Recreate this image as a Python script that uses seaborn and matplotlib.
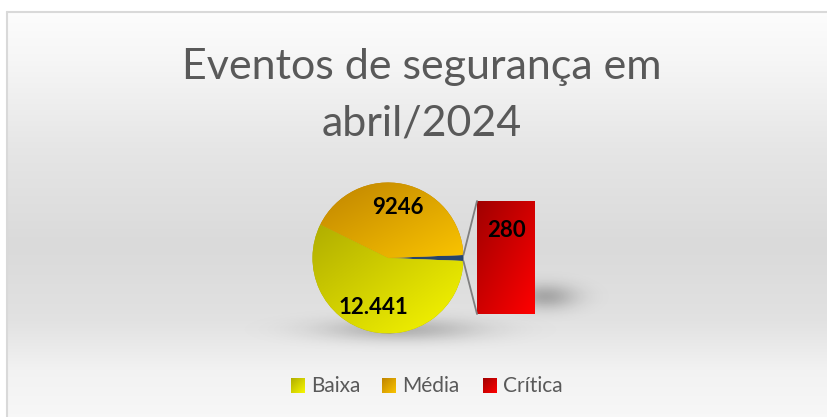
import numpy as np
import matplotlib
matplotlib.use("Agg")
import matplotlib.pyplot as plt
from matplotlib.patches import ConnectionPatch, Rectangle
from matplotlib.colors import to_rgb
import seaborn as sns

# dados do gráfico
categories = ["Baixa", "Média", "Crítica"]
counts = [12441, 9246, 280]
count_labels = ["12.441", "9246", "280"]
title_lines = ["Eventos de segurança em", "abril/2024"]
colors_dark = ["#b0ad00", "#bf8400", "#a00000"]
colors_light = ["#f8f800", "#fac400", "#ff0000"]
split_color = "#26446c"
text_color = "#595959"

sns.set_theme(style="white")
plt.rcParams['font.family'] = ['Lato', 'DejaVu Sans']

W, H = 827, 417
fig = plt.figure(figsize=(W / 100, H / 100), dpi=100)


def px_axes(x0, y0, x1, y1):
    return fig.add_axes([x0 / W, 1 - y1 / H, (x1 - x0) / W, (y1 - y0) / H])


def gradient(c1, c2, n=200):
    i, j = np.mgrid[0:n, 0:n] / (n - 1)
    t = ((i + j) / 2)[..., None]
    return np.array(to_rgb(c1)) * (1 - t) + np.array(to_rgb(c2)) * t


# fundo com degradê
bg = fig.add_axes([0, 0, 1, 1])
bg.set_xlim(0, W)
bg.set_ylim(H, 0)
bg.axis('off')
prof = np.interp(np.arange(H), [12, 60, 150, 245, 320, 370, 417],
                 [0.99, 0.965, 0.9, 0.855, 0.885, 0.95, 0.97])
img = np.ones((H, W))
img[12:, 7:] = prof[12:, None]
bg.imshow(np.dstack([img] * 3), extent=(0, W, H, 0), aspect='auto', zorder=0)
bg.plot([6.5, 6.5], [H, 11.5], color="#d9d9d9", lw=1.5, zorder=1)
bg.plot([6.5, W], [11.5, 11.5], color="#d9d9d9", lw=1.5, zorder=1)


def shadow(cx, cy, sx, sy, a):
    yy, xx = np.mgrid[0:H, 0:W]
    rgba = np.zeros((H, W, 4))
    rgba[..., 3] = a * np.exp(-((xx - cx) / sx) ** 2 / 2 - ((yy - cy) / sy) ** 2 / 2)
    bg.imshow(rgba, extent=(0, W, H, 0), aspect='auto', zorder=2)


shadow(400, 329, 55, 8, 0.22)
shadow(545, 296, 22, 9, 0.25)
bg.set_xlim(0, W)
bg.set_ylim(H, 0)

# título
bg.text(422, 79, title_lines[0], ha='center', va='baseline', fontsize=31, color=text_color)
bg.text(422, 136, title_lines[1], ha='center', va='baseline', fontsize=31, color=text_color)

# pizza
total = sum(counts)
cx, cy, R = 388, 258, 75.5
ax_pie = px_axes(cx - 80, cy - 80, cx + 80, cy + 80)
ax_pie.set_facecolor('none')
wedges, _ = ax_pie.pie([counts[2], counts[1], counts[0]],
                       startangle=-180 * counts[2] / total, counterclock=True,
                       colors=[split_color, colors_dark[1], colors_dark[0]],
                       wedgeprops=dict(linewidth=0))
for w, k in zip(wedges[1:], [1, 0]):
    ext = w.get_path().get_extents()
    im = ax_pie.imshow(gradient(colors_dark[k], colors_light[k]),
                       extent=(ext.x0, ext.x1, ext.y0, ext.y1), zorder=3)
    im.set_clip_path(w)
ax_pie.set_xlim(-80 / R, 80 / R)
ax_pie.set_ylim(-80 / R, 80 / R)
ax_pie.set_aspect('equal')
ax_pie.axis('off')
ax_pie.text(0.13, 0.67, count_labels[1], ha='center', va='center',
            fontsize=16, fontweight='bold', color='black', zorder=5)
ax_pie.text(-0.19, -0.66, count_labels[0], ha='center', va='center',
            fontsize=16, fontweight='bold', color='black', zorder=5)

# barra da fatia crítica
ax_bar = px_axes(477, 201, 535, 314)
ax_bar.set_facecolor('none')
sns.barplot(x=[categories[2]], y=[counts[2]], ax=ax_bar, width=1,
            color=colors_light[2], saturation=1, linewidth=0)
bar = ax_bar.patches[0]
im = ax_bar.imshow(gradient(colors_dark[2], colors_light[2]),
                   extent=(-0.5, 0.5, 0, counts[2]), aspect='auto', zorder=3)
im.set_clip_path(bar)
ax_bar.set_xlim(-0.5, 0.5)
ax_bar.set_ylim(0, counts[2])
ax_bar.axis('off')
ax_bar.annotate(count_labels[2], (0, counts[2]), xytext=(0, -21), textcoords='offset points',
                ha='center', va='center', fontsize=16, fontweight='bold', color='black', zorder=5)

# linhas de ligação
t1, t2 = np.radians(wedges[0].theta1), np.radians(wedges[0].theta2)
for t, yb in [(t1, 0), (t2, counts[2])]:
    con = ConnectionPatch(xyA=(np.cos(t), np.sin(t)), coordsA=ax_pie.transData,
                          xyB=(-0.5, yb), coordsB=ax_bar.transData,
                          color="#7f7f7f", lw=1.3)
    fig.add_artist(con)

# legenda
mk_x = [291, 382, 483]
for cat, x, k in zip(categories, mk_x, range(3)):
    r = Rectangle((x, 378), 14, 15, linewidth=0, facecolor='none')
    bg.add_patch(r)
    im = bg.imshow(gradient(colors_dark[k], colors_light[k]),
                   extent=(x, x + 14, 393, 378), aspect='auto', zorder=4)
    im.set_clip_path(r)
    bg.text(x + 20, 386, cat, ha='left', va='center', fontsize=15, color=text_color)
bg.set_xlim(0, W)
bg.set_ylim(H, 0)

fig.savefig("out.png", dpi=100)
